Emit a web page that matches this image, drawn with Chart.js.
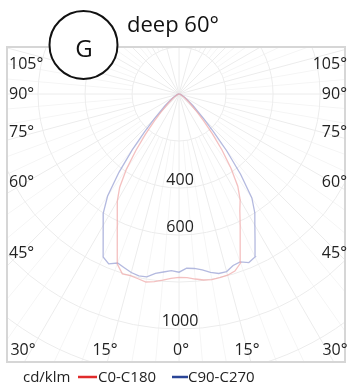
<!DOCTYPE html>
<html>
<head>
<meta charset="utf-8">
<script src="https://cdn.jsdelivr.net/npm/chart.js@4/dist/chart.umd.min.js"></script>
<style>
    body { margin: 0; background: #fff; }
    canvas { display: block; }
</style>
</head>
<body>
<canvas id="polar" width="347" height="385"></canvas>
<script>
// gamma angle (deg), 0 = straight down, negative = left half
const gammaAngles = [-90, -80, -70, -60, -55, -50, -45, -42.5, -40, -37.5, -35, -32.5, -30, -27.5, -25, -22.5, -20, -17.5, -15, -12.5, -10, -7.5, -5, -2.5,
    0, 2.5, 5, 7.5, 10, 12.5, 15, 17.5, 20, 22.5, 25, 27.5, 30, 32.5, 35, 37.5, 40, 42.5, 45, 50, 55, 60, 70, 80, 90];

// cd/klm
const c0c180 = [0, 3, 8, 18, 32, 58, 110, 155, 220, 300, 390, 470, 525, 568, 622, 688, 770, 802, 800, 805, 812, 805, 795, 785,
    780, 782, 790, 798, 802, 800, 798, 790, 765, 680, 615, 560, 520, 465, 385, 300, 220, 155, 110, 58, 32, 18, 8, 3, 0];
const c90c270 = [0, 4, 10, 24, 42, 78, 148, 215, 310, 420, 530, 600, 645, 700, 765, 782, 765, 775, 786, 792, 790, 770, 760, 752,
    758, 742, 745, 755, 770, 782, 782, 765, 760, 776, 765, 700, 645, 600, 540, 430, 315, 215, 148, 78, 42, 24, 10, 4, 0];

const seriesNames = ['C0-C180', 'C90-C270'];
const valueLabels = [400, 600, 1000];
const sideAngleLabels = ['105°', '90°', '75°', '60°', '45°'];
const bottomAngleLabels = ['30°', '15°', '0°', '15°', '30°'];

function toXY(values) {
    return values.map((v, i) => {
        let g = gammaAngles[i] * Math.PI / 180;
        return {x: v * Math.sin(g), y: -v * Math.cos(g)};
    });
}

const FONT = '"Open Sans", "DejaVu Sans", sans-serif';

const polarDecor = {
    id: 'polarDecor',
    beforeDatasetsDraw(chart) {
        const {ctx, chartArea: a, scales: {x, y}} = chart;
        const cx = x.getPixelForValue(0), cy = y.getPixelForValue(0);
        const k = (x.getPixelForValue(1000) - cx) / 1000;
        ctx.save();
        ctx.beginPath();
        ctx.rect(a.left, a.top, a.right - a.left, a.bottom - a.top);
        ctx.clip();
        // spokes
        for (let d = 0; d < 360; d += 5) {
            let t = d * Math.PI / 180;
            ctx.strokeStyle = d % 15 === 0 ? '#ececec' : '#f5f5f5';
            ctx.lineWidth = 1;
            ctx.beginPath();
            let r0 = d % 15 === 0 ? 0 : 200 * k;
            ctx.moveTo(cx + r0 * Math.sin(t), cy + r0 * Math.cos(t));
            ctx.lineTo(cx + 2000 * k * Math.sin(t), cy + 2000 * k * Math.cos(t));
            ctx.stroke();
        }
        // circles
        ctx.strokeStyle = '#ececec';
        for (let r = 200; r <= 1600; r += 200) {
            ctx.beginPath();
            ctx.arc(cx, cy, r * k, 0, Math.PI * 2);
            ctx.stroke();
        }
        ctx.restore();
        // frame
        ctx.save();
        ctx.strokeStyle = '#d6d6d6';
        ctx.lineWidth = 2;
        ctx.strokeRect(a.left, a.top, a.right - a.left, a.bottom - a.top);
        ctx.restore();
    },
    afterDraw(chart) {
        const {ctx, scales: {x, y}} = chart;
        const cx = x.getPixelForValue(0), cy = y.getPixelForValue(0);
        ctx.save();
        ctx.fillStyle = '#222';
        ctx.font = '16px ' + FONT;
        ctx.textBaseline = 'alphabetic';
        // value labels
        ctx.textAlign = 'center';
        valueLabels.forEach(v => {
            ctx.fillText(String(v), cx + 1, y.getPixelForValue(-v) - 3);
        });
        // side angle labels
        const sideBase = [69, 99, 137, 187, 258];
        sideAngleLabels.forEach((t, i) => {
            ctx.textAlign = 'left';
            ctx.fillText(t, 9, sideBase[i]);
            ctx.textAlign = 'right';
            ctx.fillText(t, 347, sideBase[i]);
        });
        // bottom angle labels
        const bottomX = [23, 105, 181, 247, 335];
        ctx.textAlign = 'center';
        bottomAngleLabels.forEach((t, i) => ctx.fillText(t, bottomX[i], 355));

        // badge + title
        ctx.beginPath();
        ctx.arc(83.5, 45, 34, 0, Math.PI * 2);
        ctx.fillStyle = '#fff';
        ctx.fill();
        ctx.lineWidth = 2;
        ctx.strokeStyle = '#111';
        ctx.stroke();
        ctx.fillStyle = '#111';
        ctx.font = '24px ' + FONT;
        ctx.textAlign = 'center';
        ctx.fillText('G', 84, 57);
        ctx.font = '22px ' + FONT;
        ctx.textAlign = 'left';
        ctx.fillText('deep 60°', 127, 32);

        // legend
        ctx.font = '15px ' + FONT;
        ctx.fillStyle = '#222';
        ctx.fillText('cd/klm', 23, 382);
        ctx.lineWidth = 2.5;
        ctx.strokeStyle = '#e02b2b';
        ctx.beginPath(); ctx.moveTo(78, 377); ctx.lineTo(97, 377); ctx.stroke();
        ctx.fillText(seriesNames[0], 98, 382);
        ctx.strokeStyle = '#2a4597';
        ctx.beginPath(); ctx.moveTo(172, 377); ctx.lineTo(188, 377); ctx.stroke();
        ctx.fillText(seriesNames[1], 188, 382);
        ctx.restore();
    }
};

new Chart(document.getElementById('polar'), {
    type: 'scatter',
    data: {
        datasets: [{
            label: seriesNames[0],
            data: toXY(c0c180),
            showLine: true,
            borderColor: 'rgba(240,165,165,0.7)',
            borderWidth: 1.3,
            pointRadius: 0,
            tension: 0
        }, {
            label: seriesNames[1],
            data: toXY(c90c270),
            showLine: true,
            borderColor: 'rgba(160,168,215,0.8)',
            borderWidth: 1.3,
            pointRadius: 0,
            tension: 0
        }]
    },
    options: {
        responsive: false,
        devicePixelRatio: 1,
        animation: false,
        layout: {padding: {left: 7, right: 2, top: 47, bottom: 23}},
        scales: {
            x: {type: 'linear', display: false, min: -732, max: 706},
            y: {type: 'linear', display: false, min: -1140, max: 200}
        },
        plugins: {
            legend: {display: false},
            tooltip: {enabled: false}
        }
    },
    plugins: [polarDecor]
});
</script>
</body>
</html>
